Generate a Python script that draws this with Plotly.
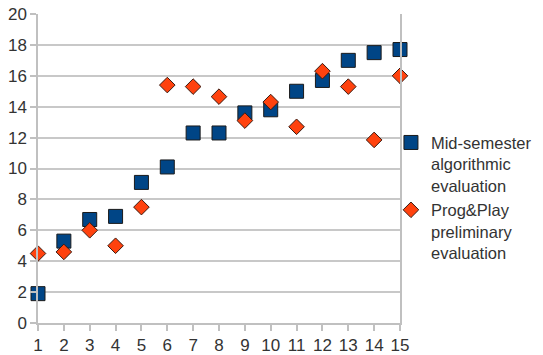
import plotly.graph_objects as go

students = list(range(1, 16))
mid_semester = [1.9, 5.3, 6.7, 6.9, 9.1, 10.1, 12.3, 12.3, 13.6, 13.8, 15.0, 15.7, 17.0, 17.5, 17.7]
prog_play = [4.5, 4.6, 6.0, 5.0, 7.5, 15.4, 15.3, 14.65, 13.1, 14.3, 12.7, 16.3, 15.3, 11.85, 16.0]
x_ticks = list(range(1, 16))
y_ticks = list(range(0, 21, 2))

fig = go.Figure()
fig.add_trace(go.Scatter(
    x=students, y=mid_semester, mode="markers",
    name="Mid-semester<br>algorithmic<br>evaluation",
    marker=dict(symbol="square", size=14, color="#004586",
                line=dict(color="#1a1a1a", width=1)),
    cliponaxis=False,
))
fig.add_trace(go.Scatter(
    x=students, y=prog_play, mode="markers",
    name="Prog&Play<br>preliminary<br>evaluation",
    marker=dict(symbol="diamond", size=12, color="#ff420e",
                line=dict(color="#3a1a10", width=1)),
    cliponaxis=False,
))

axis_font = dict(family="Liberation Sans, Arial, sans-serif", size=17, color="#333333")
fig.update_layout(
    width=543, height=355,
    margin=dict(l=38, r=143, t=14, b=32, autoexpand=False),
    paper_bgcolor="white", plot_bgcolor="white",
    showlegend=True,
    legend=dict(x=0.975, xanchor="left", y=0.64, yanchor="top",
                font=dict(family="Liberation Sans, Arial, sans-serif", size=16.5, color="#333333"),
                valign="top", tracegroupgap=0, itemwidth=30,
                bgcolor="rgba(0,0,0,0)"),
    xaxis=dict(range=[1, 15], tickvals=x_ticks, ticktext=[str(v) for v in x_ticks],
               showgrid=False, zeroline=False, showline=True, linecolor="#c0c0c0", linewidth=1.5,
               ticks="outside", ticklen=6, tickcolor="#c0c0c0", tickwidth=1.5,
               tickfont=axis_font, mirror=False, automargin=False),
    yaxis=dict(range=[0, 20], tickvals=y_ticks, ticktext=[str(v) for v in y_ticks],
               showgrid=True, gridcolor="#c8c8c8", gridwidth=1.5, zeroline=False,
               showline=True, linecolor="#c0c0c0", linewidth=1.5, mirror=True,
               ticks="outside", ticklen=6, tickcolor="#c0c0c0", tickwidth=1.5,
               tickfont=axis_font, automargin=False),
)

fig.write_html("out.html")
